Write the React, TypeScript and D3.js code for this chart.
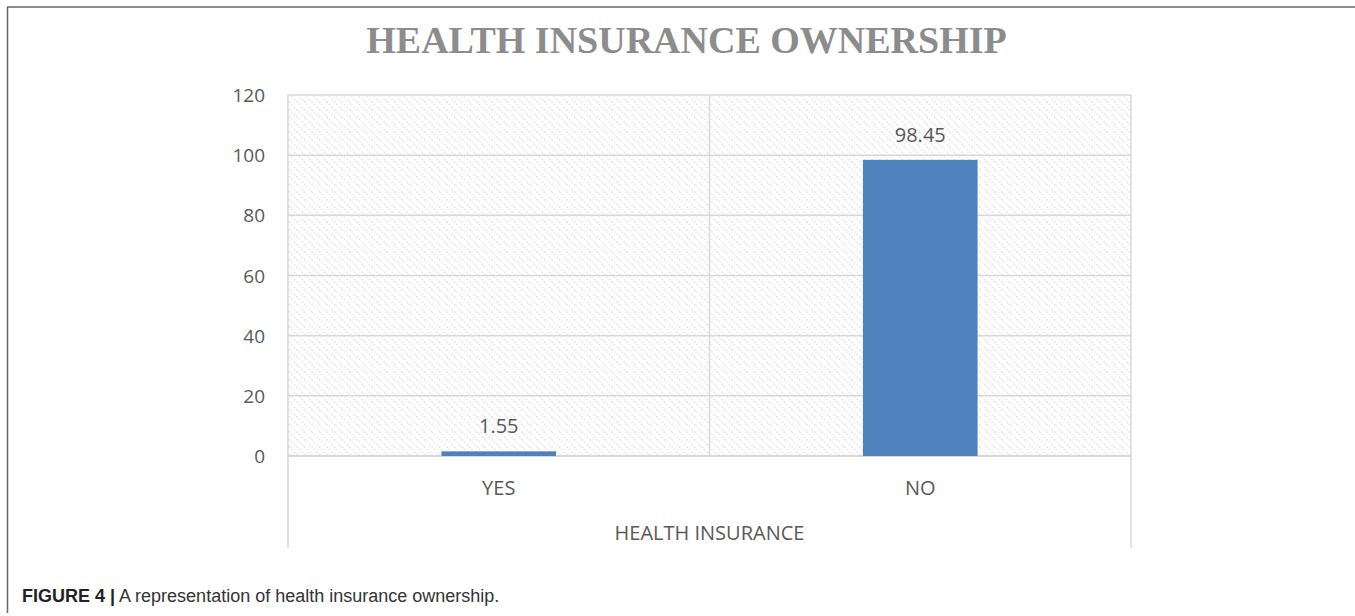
import React from "react";
import * as d3 from "d3";

const categories = ["YES", "NO"];
const values = [1.55, 98.45];
const yTicks = [0, 20, 40, 60, 80, 100, 120];
const chartTitle = "HEALTH INSURANCE OWNERSHIP";
const xAxisTitle = "HEALTH INSURANCE";
const captionBold = "FIGURE 4 |";
const captionText = " A representation of health insurance ownership.";

const W = 1355;
const H = 616;
const plot = { left: 288, right: 1131, top: 95, bottom: 456 };

export default function App() {
  const x = d3
    .scaleBand<string>()
    .domain(categories)
    .range([plot.left, plot.right])
    .paddingInner(0)
    .paddingOuter(0);
  const y = d3.scaleLinear().domain([0, 120]).range([plot.bottom, plot.top]);
  const barW = x.bandwidth() * 0.272;
  const txt = "#595959";
  const grid = "#d9d9d9";
  const sans = "'Open Sans', sans-serif";

  return (
    <svg
      width={W}
      height={H}
      style={{ position: "absolute", left: 0, top: 0, background: "#fff" }}
    >
      <defs>
        <pattern
          id="hatch"
          width={7.5}
          height={7.5}
          patternUnits="userSpaceOnUse"
        >
          <rect width={7.5} height={7.5} fill="#fff" />
          <line
            x1={-1}
            y1={-1}
            x2={8.5}
            y2={8.5}
            stroke="#d9d9d9"
            strokeWidth={1.1}
            strokeDasharray="2 1.5"
          />
        </pattern>
      </defs>
      {/* frame */}
      <line x1={7.5} y1={7} x2={7.5} y2={613} stroke="#666" strokeWidth={1.5} />
      <line x1={7} y1={7} x2={W} y2={7} stroke="#666" strokeWidth={1.5} />

      {/* title */}
      <text
        x={(plot.left + plot.right) / 2 - 23}
        y={53}
        textAnchor="middle"
        fontFamily="'Liberation Serif', serif"
        fontWeight="bold"
        fontSize={38}
        fill="#8c8c8c"
      >
        {chartTitle}
      </text>

      {/* plot background */}
      <rect
        x={plot.left}
        y={plot.top}
        width={plot.right - plot.left}
        height={plot.bottom - plot.top}
        fill="url(#hatch)"
      />
      {/* horizontal grid */}
      {yTicks.map((t) => (
        <line
          key={"g" + t}
          x1={plot.left}
          x2={plot.right}
          y1={y(t)}
          y2={y(t)}
          stroke={grid}
          strokeWidth={t === 0 ? 2 : 1.5}
        />
      ))}
      {/* vertical grid: category boundaries */}
      <line
        x1={x("NO")!}
        x2={x("NO")!}
        y1={plot.top}
        y2={plot.bottom}
        stroke={grid}
        strokeWidth={1.5}
      />
      <line x1={plot.left} x2={plot.left} y1={plot.top} y2={548} stroke={grid} strokeWidth={1.5} />
      <line x1={plot.right} x2={plot.right} y1={plot.top} y2={548} stroke={grid} strokeWidth={1.5} />

      {/* y tick labels */}
      {yTicks.map((t) => (
        <text
          key={"t" + t}
          x={265}
          y={y(t) + 7}
          textAnchor="end"
          fontFamily={sans}
          fontSize={19}
          fill={txt}
        >
          {t}
        </text>
      ))}

      {/* bars */}
      {categories.map((c, i) => {
        const cx = x(c)! + x.bandwidth() / 2;
        return (
          <g key={c}>
            <rect
              x={cx - barW / 2}
              y={y(values[i])}
              width={barW}
              height={y(0) - y(values[i])}
              fill="#4f81bd"
            />
            <text
              x={cx}
              y={y(values[i]) - 18}
              textAnchor="middle"
              fontFamily={sans}
              fontSize={20}
              fill={txt}
            >
              {values[i].toFixed(2)}
            </text>
            <text
              x={cx}
              y={495}
              textAnchor="middle"
              fontFamily={sans}
              fontSize={20}
              fill={txt}
            >
              {c}
            </text>
          </g>
        );
      })}

      {/* x axis title */}
      <text
        x={(plot.left + plot.right) / 2}
        y={540}
        textAnchor="middle"
        fontFamily={sans}
        fontSize={20}
        fill={txt}
      >
        {xAxisTitle}
      </text>

      {/* caption */}
      <text
        x={22}
        y={602}
        fontFamily="'Liberation Sans', Arial, sans-serif"
        fontSize={18}
        fill="#222"
      >
        <tspan fontWeight="bold">{captionBold}</tspan>
        <tspan fill="#333">{captionText}</tspan>
      </text>
    </svg>
  );
}
